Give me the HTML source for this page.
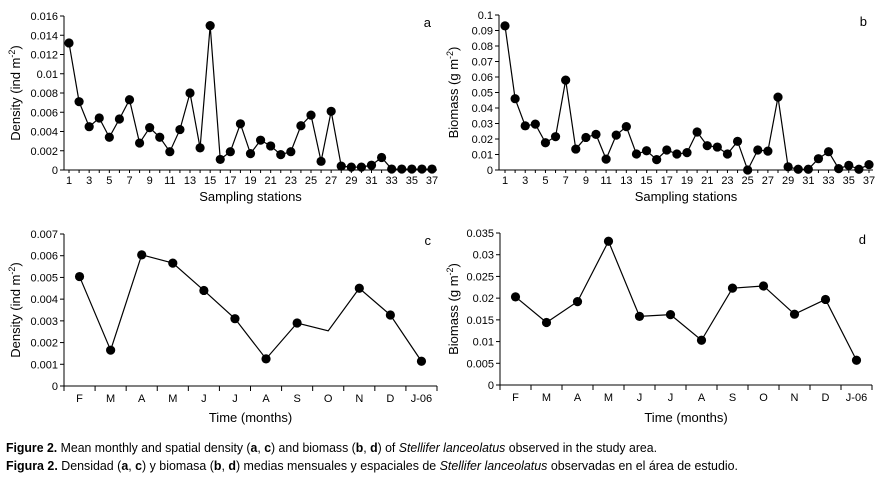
<!DOCTYPE html>
<html><head><meta charset="utf-8"><style>
body{margin:0;background:#fff;}
svg{display:block;font-family:"Liberation Sans",Arial,sans-serif;}
</style></head><body>
<svg id="fig" width="883" height="488" viewBox="0 0 883 488">
<text x="6" y="452" font-size="12.5" textLength="651" lengthAdjust="spacingAndGlyphs"><tspan font-weight="bold">Figure 2.</tspan> Mean monthly and spatial density (<tspan font-weight="bold">a</tspan>, <tspan font-weight="bold">c</tspan>) and biomass (<tspan font-weight="bold">b</tspan>, <tspan font-weight="bold">d</tspan>) of <tspan font-style="italic">Stellifer lanceolatus</tspan> observed in the study area.</text>
<text x="6" y="470" font-size="12.5" textLength="732" lengthAdjust="spacingAndGlyphs"><tspan font-weight="bold">Figura 2.</tspan> Densidad  (<tspan font-weight="bold">a</tspan>, <tspan font-weight="bold">c</tspan>) y biomasa  (<tspan font-weight="bold">b</tspan>, <tspan font-weight="bold">d</tspan>) medias mensuales y espaciales de <tspan font-style="italic">Stellifer lanceolatus</tspan> observadas en el área de estudio.</text>
</svg>
<script>
const stations = Array.from({length:37},(_,i)=>i+1);
const densityStations = [0.0132,0.0071,0.0045,0.0054,0.0034,0.0053,0.0073,0.0028,0.0044,0.0034,0.0019,0.0042,0.0080,0.0023,0.0150,0.0011,0.0019,0.0048,0.0017,0.0031,0.0025,0.0016,0.0019,0.0046,0.0057,0.0009,0.0061,0.0004,0.0003,0.0003,0.0005,0.0013,0.0001,0.0001,0.0001,0.0001,0.0001];
const biomassStations = [0.093,0.046,0.0285,0.0296,0.0176,0.0215,0.058,0.0135,0.021,0.023,0.007,0.0225,0.028,0.0103,0.0124,0.0067,0.0129,0.0103,0.0112,0.0245,0.0157,0.0148,0.0103,0.0185,0,0.0129,0.0122,0.047,0.002,0.0005,0.0005,0.0073,0.0118,0.0009,0.003,0.0005,0.0035];
const months = ["F","M","A","M","J","J","A","S","O","N","D","J-06"];
const densityMonths = [0.00504,0.00165,0.00604,0.00566,0.0044,0.0031,0.00125,0.0029,0.00254,0.0045,0.00327,0.00114];
const densityMarkers = [1,1,1,1,1,1,1,1,0,1,1,1];
const biomassMonths = [0.0203,0.0144,0.0192,0.0331,0.0158,0.0162,0.0103,0.0223,0.0228,0.0163,0.0197,0.0057];
const ticksA = ["0","0.002","0.004","0.006","0.008","0.01","0.012","0.014","0.016"];
const ticksB = ["0","0.01","0.02","0.03","0.04","0.05","0.06","0.07","0.08","0.09","0.1"];
const ticksC = ["0","0.001","0.002","0.003","0.004","0.005","0.006","0.007"];
const ticksD = ["0","0.005","0.01","0.015","0.02","0.025","0.03","0.035"];

const svg=document.getElementById('fig');
const NS="http://www.w3.org/2000/svg";
function mk(t,a,p){const e=document.createElementNS(NS,t);for(const k in a)e.setAttribute(k,a[k]);(p||svg).appendChild(e);return e;}

function panel(o){
  const g=mk('g',{});
  
  
  const ymax=parseFloat(o.ticks[o.ticks.length-1]);
  const ys=v=>o.y0-(v/ymax)*(o.y0-o.y1);
  const n=o.vals.length;
  const xs=o.band?(i=>o.x0+(i+0.5)*(o.x1-o.x0)/n):(i=>o.xf+i*(o.xl-o.xf)/(n-1));
  // axes
  const ya=mk('line',{x1:o.x0,y1:o.y1,x2:o.x0,y2:o.y0,stroke:'#000','stroke-width':1},g);
  
  const xa=mk('line',{x1:o.x0,y1:o.y0,x2:o.x1,y2:o.y0,stroke:'#000','stroke-width':1},g);
  
  o.ticks.forEach(t=>{
    const y=ys(parseFloat(t));
    mk('line',{x1:o.x0-4,y1:y,x2:o.x0,y2:y,stroke:'#000'},g);
    const tx=mk('text',{x:o.x0-6,y:y+4,'font-size':11,'text-anchor':'end'},g);
    tx.textContent=t;
    
    
  });
  if(o.band){
    const w=(o.x1-o.x0)/n;
    for(let i=0;i<=n;i++) mk('line',{x1:o.x0+i*w,y1:o.y0,x2:o.x0+i*w,y2:o.y0+5,stroke:'#000'},g);
    o.cats.forEach((c,i)=>{
      const tx=mk('text',{x:xs(i),y:o.y0+16,'font-size':11,'text-anchor':'middle'},g);
      tx.textContent=c;
      
      
    });
  } else {
    o.cats.forEach((c,i)=>{
      mk('line',{x1:xs(i),y1:o.y0,x2:xs(i),y2:o.y0+3,stroke:'#000'},g);
      if(i%2===0){
        const tx=mk('text',{x:xs(i),y:o.y0+14,'font-size':11,'text-anchor':'middle'},g);
        tx.textContent=c;
        
        
      }
    });
  }
  const pts=o.vals.map((v,i)=>xs(i)+','+ys(v)).join(' ');
  const pl=mk('polyline',{points:pts,fill:'none',stroke:'#000','stroke-width':1.2},g);
  
  
  o.vals.forEach((v,i)=>{
    if(o.markers && !o.markers[i]) return;
    const c=mk('circle',{cx:xs(i),cy:ys(v),r:4.6,fill:'#000'},g);
    
    
  });
  const yt=mk('text',{x:0,y:0,'font-size':13,'text-anchor':'middle',transform:`translate(${o.ytx},${(o.y0+o.y1)/2}) rotate(-90)`},g);
  yt.innerHTML=o.ytitle;
  
  
  const xt=mk('text',{x:(o.x0+o.x1)/2,y:o.xty,'font-size':13,'text-anchor':'middle'},g);
  xt.textContent=o.xtitle;
  
  
  const lt=mk('text',{x:o.x1-6,y:o.y1+11,'font-size':13,'text-anchor':'end'},g);
  lt.textContent=o.letter;
  
  
}
panel({letter:'a',x0:64,x1:437,y0:170,y1:16,xf:69,xl:432,vals:densityStations,cats:stations,ticks:ticksA,ytitle:'Density (ind m<tspan dy="-5" font-size="9">-2</tspan><tspan dy="5">)</tspan>',ytx:20,xtitle:'Sampling stations',xty:201});
panel({letter:'b',x0:499,x1:873,y0:170,y1:15,xf:505,xl:869,vals:biomassStations,cats:stations,ticks:ticksB,ytitle:'Biomass (g m<tspan dy="-5" font-size="9">-2</tspan><tspan dy="5">)</tspan>',ytx:458,xtitle:'Sampling stations',xty:201});
panel({letter:'c',band:true,x0:64,x1:437,y0:386,y1:234,vals:densityMonths,markers:densityMarkers,cats:months,ticks:ticksC,ytitle:'Density (ind m<tspan dy="-5" font-size="9">-2</tspan><tspan dy="5">)</tspan>',ytx:20,xtitle:'Time (months)',xty:422});
panel({letter:'d',band:true,x0:500,x1:872,y0:385,y1:233,vals:biomassMonths,cats:months,ticks:ticksD,ytitle:'Biomass (g m<tspan dy="-5" font-size="9">-2</tspan><tspan dy="5">)</tspan>',ytx:458,xtitle:'Time (months)',xty:422});
</script>
</body></html>
